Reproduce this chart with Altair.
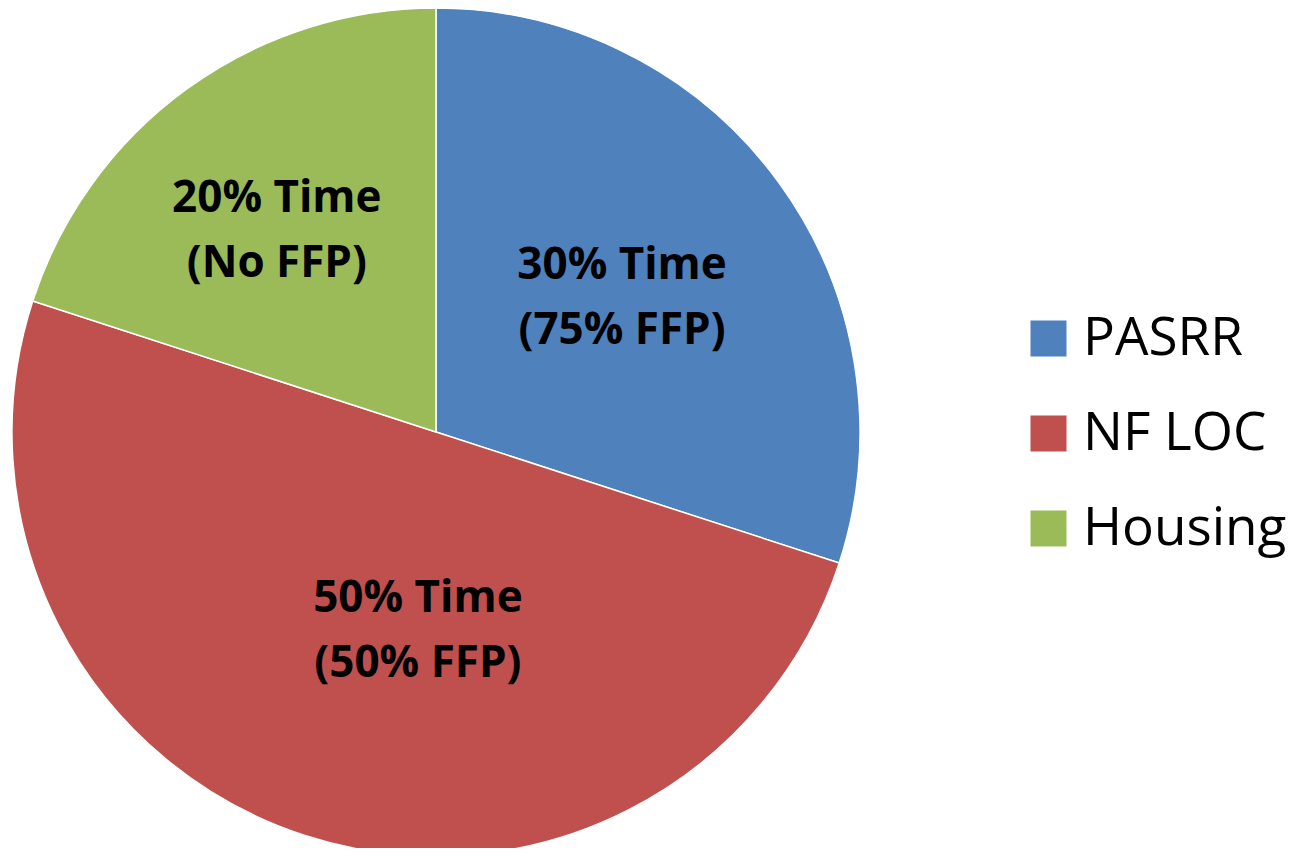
import altair as alt
import pandas as pd

categories = ["PASRR", "NF LOC", "Housing"]
shares = [30, 50, 20]
labels = ["30% Time\n(75% FFP)", "50% Time\n(50% FFP)", "20% Time\n(No FFP)"]
colors = ["#4F81BD", "#C0504D", "#9BBB59"]

df = pd.DataFrame({"cat": categories, "value": shares, "label": labels,
                   "idx": list(range(len(categories)))})

CX, CY, R = 428, 424, 424

base = alt.Chart(df).encode(
    theta=alt.Theta("value:Q", stack=True),
    order=alt.Order("idx:Q"),
)

pie = base.mark_arc(stroke="white", strokeWidth=1.5).encode(
    x=alt.value(CX), y=alt.value(CY),
    radius=alt.value(R),
    color=alt.Color("cat:N", scale=alt.Scale(domain=categories, range=colors),
                    sort=categories,
                    legend=alt.Legend(title=None, orient="none", legendX=1014, legendY=304,
                                      symbolType="square", symbolSize=1296,
                                      symbolStrokeWidth=0, labelFont="Open Sans",
                                      labelFontSize=53, labelColor="black",
                                      labelOffset=8, rowPadding=41, padding=0,
                                      labelLimit=400)),
)

def text_layer(cat, rad, dx, dy):
    return base.mark_text(font="Open Sans", fontWeight="bold", fontSize=44,
                          lineHeight=65, lineBreak="\n", color="black",
                          dx=dx, dy=dy, baseline="middle", align="center").encode(
        x=alt.value(CX), y=alt.value(CY),
        radius=alt.value(rad),
        text=alt.condition(f"datum.cat == '{cat}'", "label:N", alt.value("")),
    )

chart = alt.layer(
    pie,
    text_layer("PASRR", 230, 0, -31),
    text_layer("NF LOC", 230, 53, -52),
    text_layer("Housing", 230, -24, -47),
).properties(
    width=1288, height=840, padding=0,
    autosize=alt.AutoSizeParams(type="none"),
).configure_view(stroke=None)

chart.save("out.html", embed_options={"renderer": "svg", "actions": False})
